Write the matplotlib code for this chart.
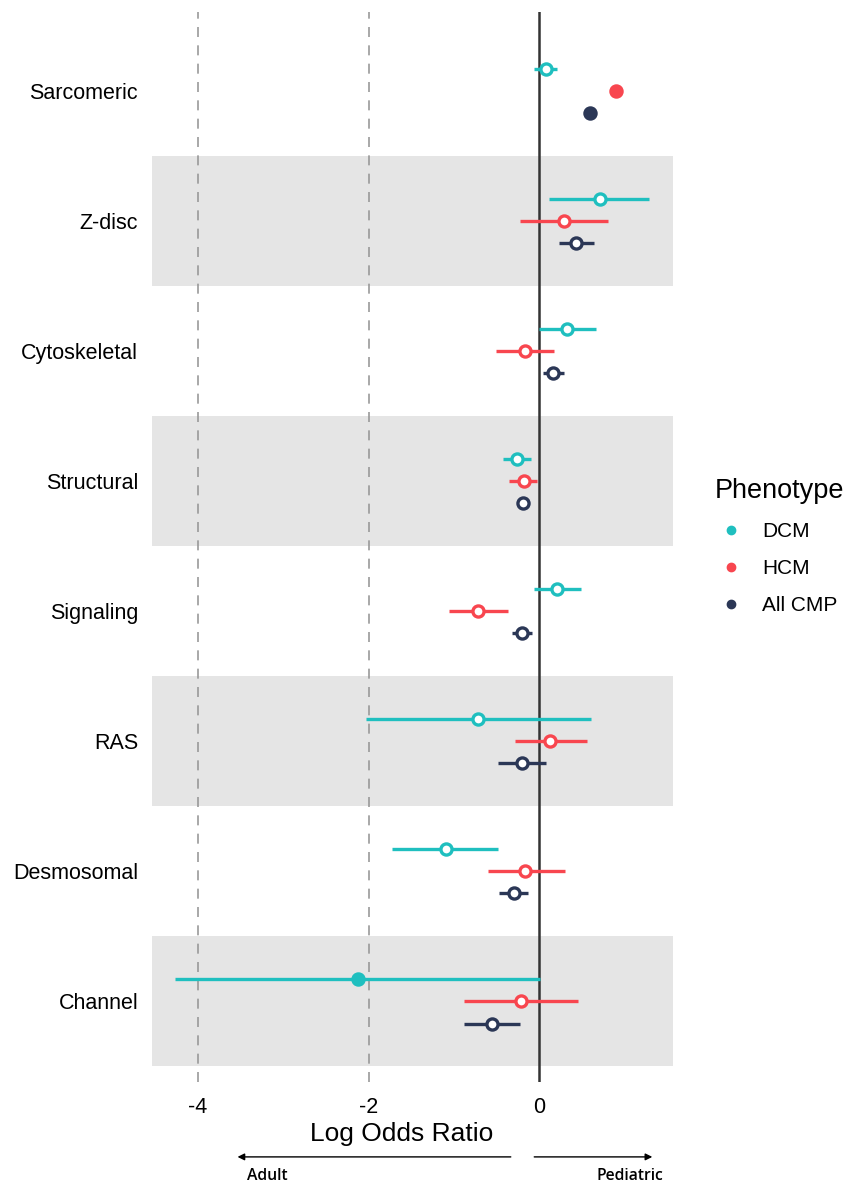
import matplotlib.pyplot as plt
import numpy as np

plt.rcParams['font.family'] = ['Liberation Sans', 'DejaVu Sans']

categories = ['Sarcomeric', 'Z-disc', 'Cytoskeletal', 'Structural',
              'Signaling', 'RAS', 'Desmosomal', 'Channel']
phenotypes = ['DCM', 'HCM', 'All CMP']
colors = {'DCM': '#1fbfbf', 'HCM': '#f8464f', 'All CMP': '#2b3756'}

# log odds ratio estimates with lower / upper CI bounds, one value per category
dcm_est = [0.08, 0.71, 0.33, -0.26, 0.21, -0.72, -1.09, -2.13]
dcm_lo = [-0.06, 0.12, 0.00, -0.42, -0.06, -2.03, -1.72, -4.27]
dcm_hi = [0.21, 1.29, 0.67, -0.10, 0.49, 0.61, -0.48, 0.01]
dcm_filled = [False, False, False, False, False, False, False, True]

hcm_est = [0.90, 0.29, -0.16, -0.18, -0.72, 0.13, -0.16, -0.21]
hcm_lo = [0.87, -0.22, -0.51, -0.35, -1.06, -0.28, -0.60, -0.88]
hcm_hi = [0.93, 0.81, 0.17, -0.03, -0.37, 0.56, 0.30, 0.45]
hcm_filled = [True, False, False, False, False, False, False, False]

cmp_est = [0.60, 0.43, 0.16, -0.19, -0.20, -0.20, -0.30, -0.55]
cmp_lo = [0.60, 0.23, 0.04, -0.22, -0.32, -0.48, -0.47, -0.88]
cmp_hi = [0.60, 0.64, 0.29, -0.16, -0.08, 0.08, -0.13, -0.23]
cmp_filled = [True, False, False, False, False, False, False, False]

series = {
    'DCM': (dcm_est, dcm_lo, dcm_hi, dcm_filled),
    'HCM': (hcm_est, hcm_lo, hcm_hi, hcm_filled),
    'All CMP': (cmp_est, cmp_lo, cmp_hi, cmp_filled),
}
offsets = {'DCM': 0.17, 'HCM': 0.0, 'All CMP': -0.17}

fig = plt.figure(figsize=(8.57, 11.82), dpi=100)
ax = fig.add_axes([0.1774, 0.0846, 0.6079, 0.9052])

n = len(categories)
ypos = np.arange(n)[::-1] + 1  # Sarcomeric on top

# alternating grey bands
for i, y in enumerate(ypos):
    if i % 2 == 1:
        ax.axhspan(y - 0.5, y + 0.5, color='#e5e5e5', zorder=0, lw=0)

ax.axvline(0, color='#333333', lw=1.8, zorder=1)
for xv in [-4, -2]:
    ax.axvline(xv, color='#999999', lw=1.2, ls=(0, (6, 5)), zorder=1)

for ph in phenotypes:
    est, lo, hi, filled = series[ph]
    c = colors[ph]
    for y, e, l, h, f in zip(ypos, est, lo, hi, filled):
        yy = y + offsets[ph]
        ax.plot([l, h], [yy, yy], color=c, lw=2.4, solid_capstyle='butt', zorder=2)
        ax.plot(e, yy, 'o', ms=8, mfc=c if f else 'white',
                mec=c, mew=2.4, zorder=3)
    ax.plot([], [], 'o', color=c, ms=6, label=ph)

ax.set_xlim(-4.54, 1.57)
ax.set_ylim(0.38, 8.61)
ax.set_yticks(ypos)
ax.set_yticklabels(categories, fontsize=15.5)
ax.set_xticks([-4, -2, 0])
ax.set_xticklabels(['-4', '-2', '0'], fontsize=15.5)
ax.tick_params(length=0)
ax.tick_params(axis='x', pad=11)
ax.tick_params(axis='y', pad=10)
for s in ax.spines.values():
    s.set_visible(False)
ax.set_xlabel('Log Odds Ratio', fontsize=19)
ax.xaxis.set_label_coords(0.48, -0.037)

# direction arrows under the axis
tr = ax.get_xaxis_transform()
ax.annotate('', xy=(-3.57, -0.070), xytext=(-0.30, -0.070), xycoords=tr,
            arrowprops=dict(arrowstyle='-|>', color='black', lw=1.0,
                            mutation_scale=10), annotation_clip=False)
ax.annotate('', xy=(1.36, -0.070), xytext=(-0.09, -0.070), xycoords=tr,
            arrowprops=dict(arrowstyle='-|>', color='black', lw=1.0,
                            mutation_scale=10), annotation_clip=False)
ax.text(-3.19, -0.088, 'Adult', transform=tr, ha='center', va='center',
        fontsize=11.3, fontweight='semibold', family='Open Sans')
ax.text(1.07, -0.088, 'Pediatric', transform=tr, ha='center', va='center',
        fontsize=11.3, fontweight='semibold', family='Open Sans')

leg = ax.legend(title='Phenotype', loc='upper left', frameon=False,
                bbox_to_anchor=(0.812, 0.6115), bbox_transform=fig.transFigure,
                fontsize=15, title_fontsize=19.5, handlelength=1.58,
                handletextpad=0.71, labelspacing=0.87, alignment='left')

fig.savefig('out.png', dpi=100)
